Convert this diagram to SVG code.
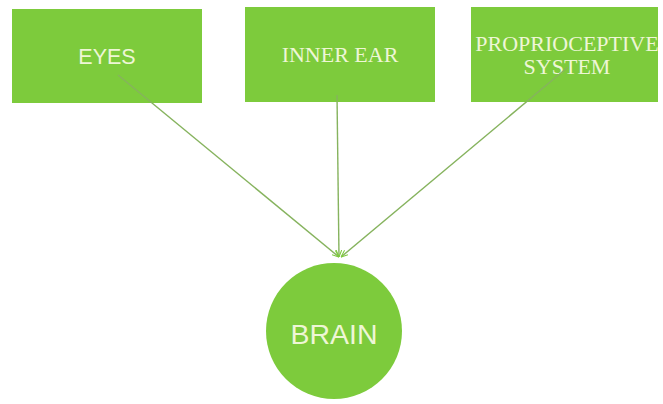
<svg xmlns="http://www.w3.org/2000/svg" width="663" height="404" viewBox="0 0 663 404">
<style>
.box{fill:#7dcb3c}
.lbl{fill:#eef6d6;text-anchor:middle}
.sans{font-family:"Liberation Sans",Arial,sans-serif}
.serif{font-family:"Liberation Serif","Times New Roman",serif}
.conn{stroke:#86b35e;stroke-width:1.4;fill:none;marker-end:url(#ah)}
</style>
<defs>
<marker id="ah" viewBox="0 0 10 10" refX="10" refY="5" markerWidth="7" markerHeight="7" orient="auto" markerUnits="userSpaceOnUse">
<path d="M0,1 L10,5 L0,9" fill="none" stroke="#7dcb3c" stroke-width="1.5"/>
</marker>
</defs>
<rect width="663" height="404" fill="#ffffff"/>
<g id="eyes">
<rect class="box" x="12" y="9" width="190" height="94"/>
<text class="lbl sans" x="107" y="64" font-size="21.5">EYES</text>
</g>
<g id="inner-ear">
<rect class="box" x="245" y="7" width="190" height="95"/>
<text class="lbl serif" x="340" y="62" font-size="22">INNER EAR</text>
</g>
<g id="proprioceptive">
<rect class="box" x="471" y="7" width="187" height="95"/>
<text class="lbl serif" x="567" y="51" font-size="22">PROPRIOCEPTIVE</text>
<text class="lbl serif" x="567" y="74" font-size="22">SYSTEM</text>
</g>
<g id="brain">
<circle class="box" cx="334" cy="331" r="68"/>
<text class="lbl sans" x="334" y="344" font-size="28.5">BRAIN</text>
</g>
<g id="connectors">
<line class="conn" x1="118" y1="75" x2="339" y2="257"/>
<line class="conn" x1="337" y1="95" x2="339" y2="257"/>
<line class="conn" x1="568" y1="67" x2="341" y2="257"/>
</g>
</svg>
